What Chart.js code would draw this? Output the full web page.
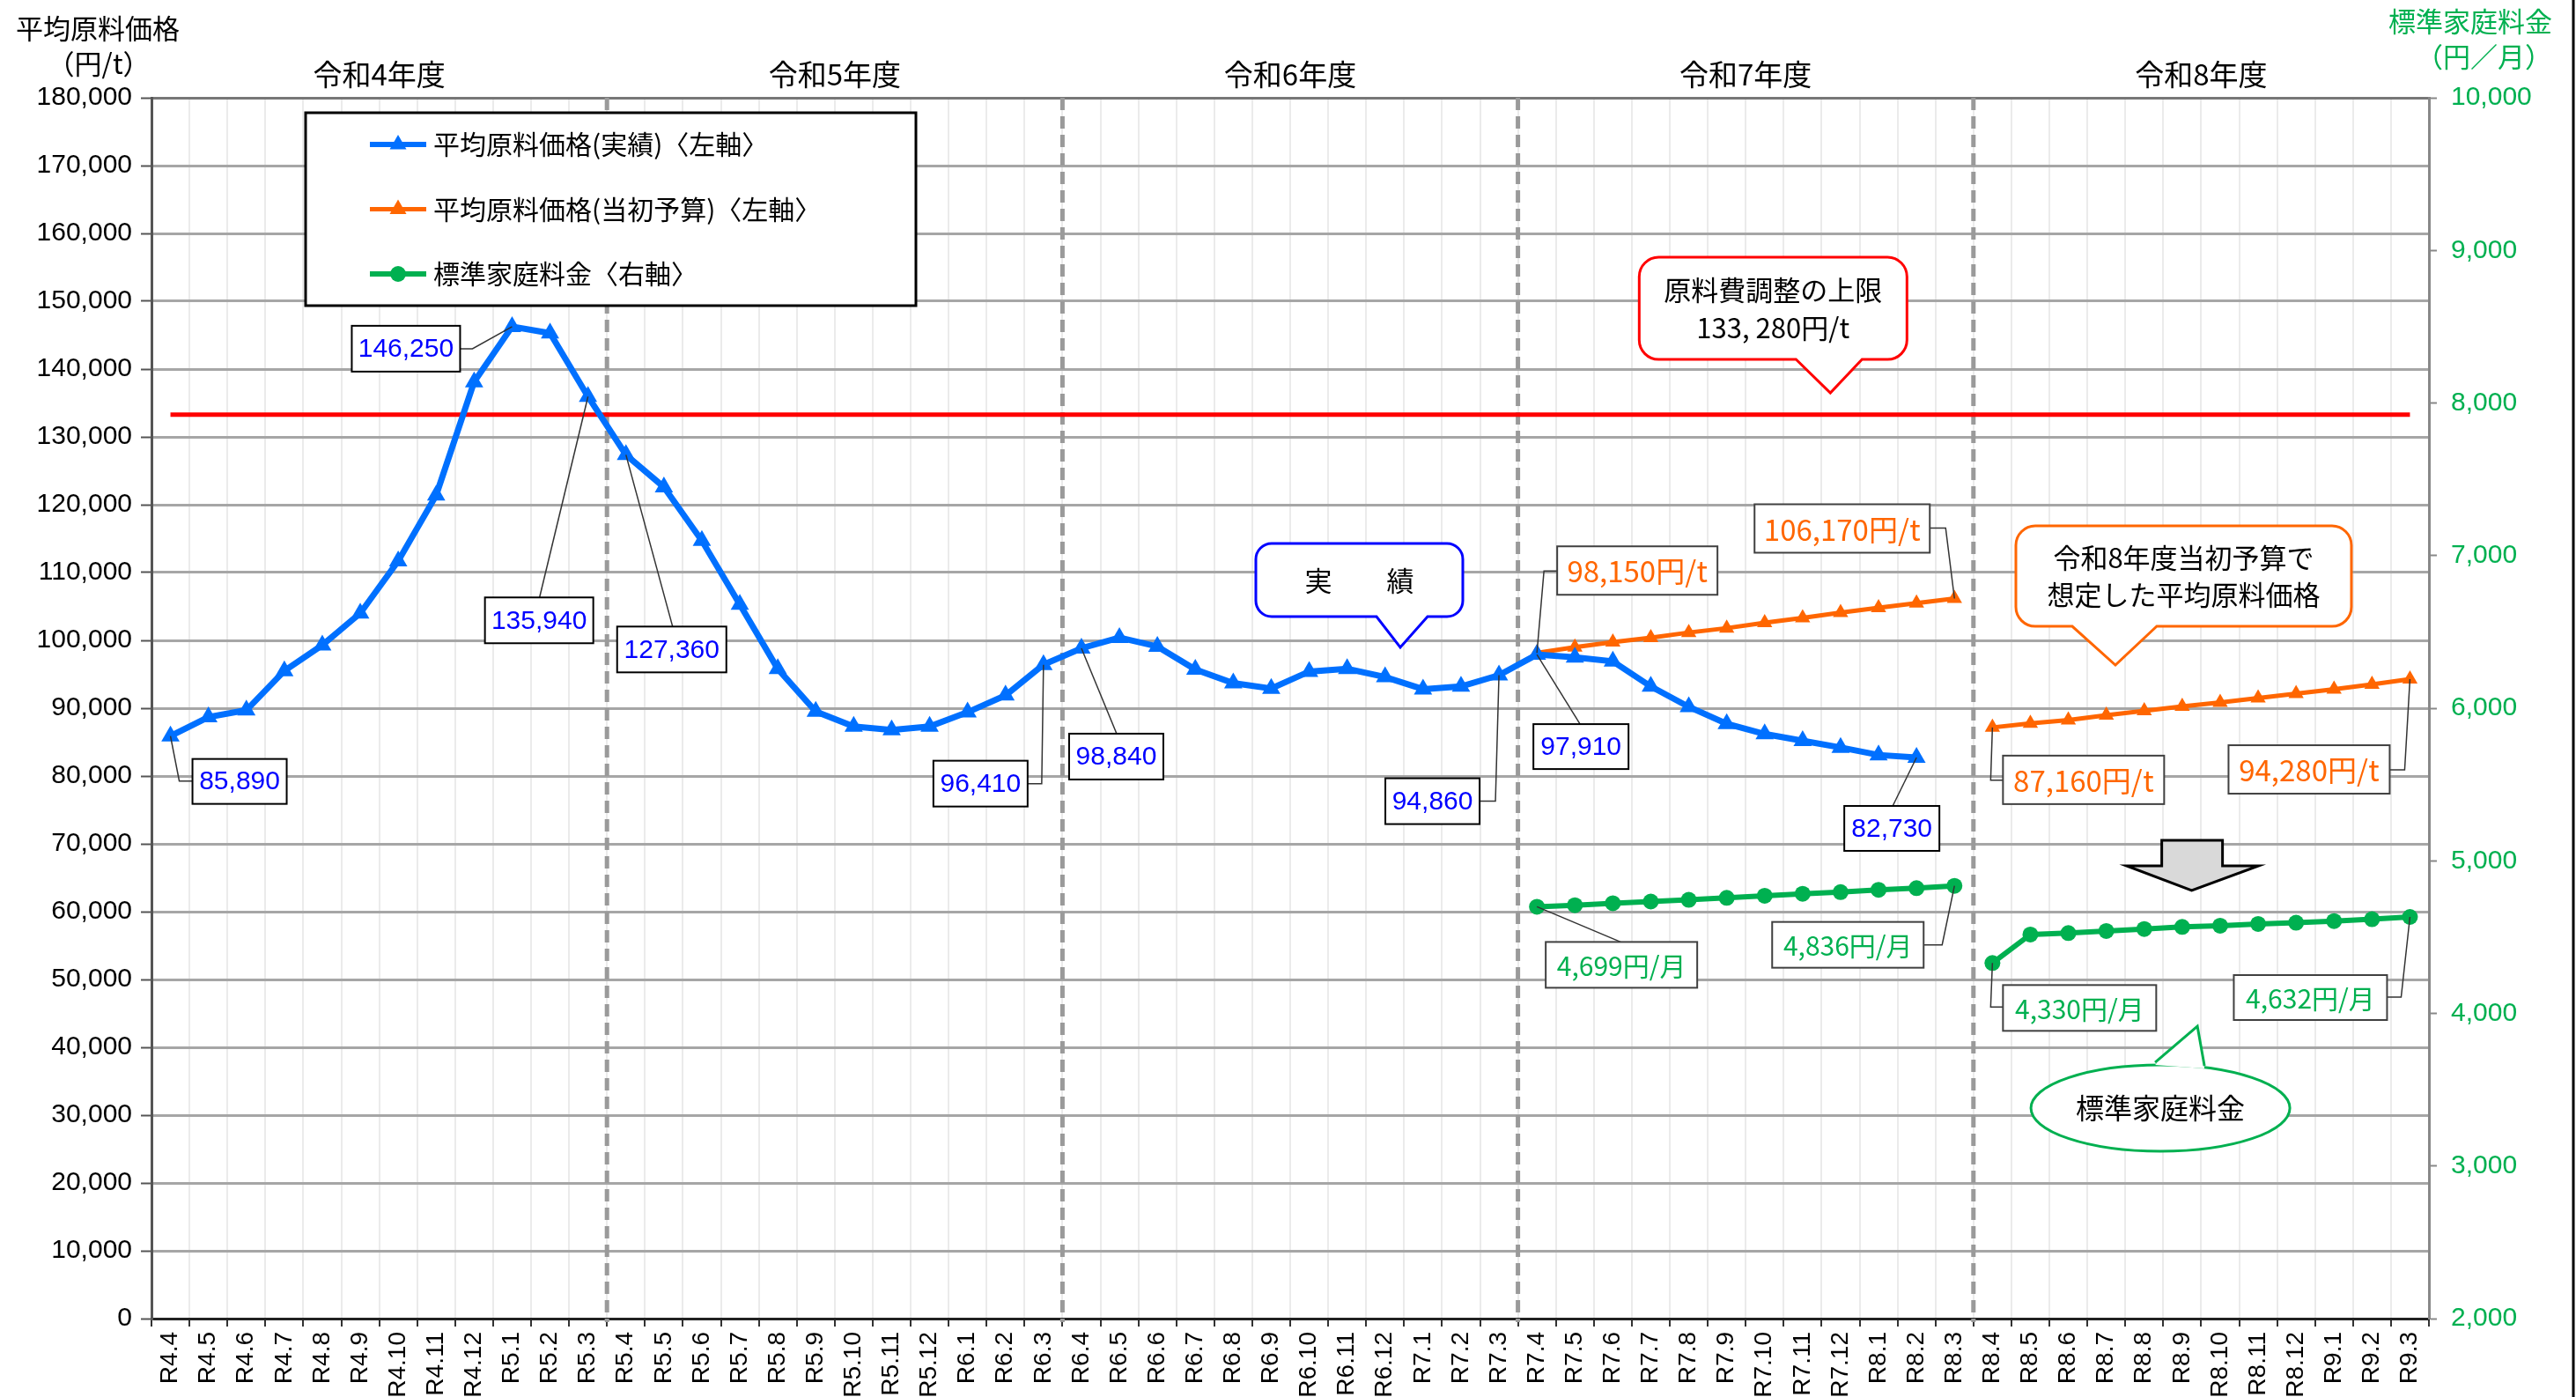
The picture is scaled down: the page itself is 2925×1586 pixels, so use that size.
<!DOCTYPE html>
<html lang="ja">
<head>
<meta charset="utf-8">
<title>平均原料価格と標準家庭料金の推移</title>
<script src="https://cdn.jsdelivr.net/npm/chart.js@4.4.1/dist/chart.umd.min.js"></script>
<style>
  html, body { margin: 0; padding: 0; background: #fff; }
  #chart { display: block; }
</style>
</head>
<body>
<canvas id="chart" width="2925" height="1586" style="width:2925px;height:1586px"></canvas>
<script>
"use strict";

/* data */
var months = [
  "R4.4","R4.5","R4.6","R4.7","R4.8","R4.9","R4.10","R4.11","R4.12","R5.1","R5.2","R5.3",
  "R5.4","R5.5","R5.6","R5.7","R5.8","R5.9","R5.10","R5.11","R5.12","R6.1","R6.2","R6.3",
  "R6.4","R6.5","R6.6","R6.7","R6.8","R6.9","R6.10","R6.11","R6.12","R7.1","R7.2","R7.3",
  "R7.4","R7.5","R7.6","R7.7","R7.8","R7.9","R7.10","R7.11","R7.12","R8.1","R8.2","R8.3",
  "R8.4","R8.5","R8.6","R8.7","R8.8","R8.9","R8.10","R8.11","R8.12","R9.1","R9.2","R9.3"
];
var fiscalYears = ["令和4年度", "令和5年度", "令和6年度", "令和7年度", "令和8年度"];

// 平均原料価格（実績） R4.4〜R8.2
var actualPrice = [
  85890, 88700, 89700, 95500, 99300, 104000, 111700, 121400, 138100, 146250, 145300, 135940,
  127360, 122600, 114700, 105300, 95800, 89500, 87300, 86800, 87300, 89400, 91900, 96410,
  98840, 100400, 99100, 95700, 93700, 92900, 95400, 95800, 94600, 92800, 93200, 94860,
  97910, 97500, 96900, 93200, 90200, 87700, 86200, 85200, 84200, 83100, 82730
];
// 平均原料価格（当初予算） R7.4〜R8.3 / R8.4〜R9.3
var budgetPriceR7 = [98150, 99000, 99750, 100400, 101150, 101800, 102600, 103300, 104100, 104800, 105500, 106170];
var budgetPriceR8 = [87160, 87750, 88250, 88950, 89600, 90250, 90850, 91500, 92150, 92800, 93500, 94280];
// 標準家庭料金 R7.4〜R8.3 / R8.4〜R9.3
var householdRateR7 = [4699, 4709, 4722, 4733, 4744, 4757, 4771, 4784, 4795, 4810, 4821, 4836];
var householdRateR8 = [4330, 4517, 4526, 4540, 4553, 4567, 4575, 4586, 4594, 4605, 4617, 4632];
// 原料費調整の上限
var adjustmentCap = 133280;

var BLUE = "#0070ff", ORANGE = "#ff6600", GREEN = "#00b050", RED = "#ff0000";
var JP = "'Noto Sans CJK JP', 'Noto Sans', sans-serif";
var NUM = "'Liberation Sans', Arial, sans-serif";

function pad(start, values) {
  var out = [];
  for (var k = 0; k < months.length; k++) {
    var j = k - start;
    out.push(j >= 0 && j < values.length ? values[j] : null);
  }
  return out;
}
function fmt(v) { return v.toLocaleString("en-US"); }

/* value labels with leader lines (offsets from the point) */
var valueLabels = [
  {ds: 0, i: 0,  box: [25, 26, 107, 51],    path: [[0,0],[10,51],[25,51]]},
  {ds: 0, i: 9,  box: [-182, -1, 123, 52],  path: [[0,0],[-45,25],[-59,25]]},
  {ds: 0, i: 11, box: [-117, 228, 123, 52], path: [[0,0],[-55,228]]},
  {ds: 0, i: 12, box: [-10, 195, 124, 52],  path: [[0,0],[53,195]]},
  {ds: 0, i: 23, box: [-125, 109, 107, 52], path: [[0,0],[-2,135],[-18,135]]},
  {ds: 0, i: 24, box: [-14, 97, 107, 52],   path: [[0,0],[40,97]]},
  {ds: 0, i: 35, box: [-129, 117, 107, 52], path: [[0,0],[-4,143],[-22,143]]},
  {ds: 0, i: 36, box: [-4, 79, 108, 51],    path: [[0,0],[49,79]]},
  {ds: 0, i: 46, box: [-82, 55, 108, 51],   path: [[0,0],[-27,55]]},
  {ds: 1, i: 36, box: [23, -121, 182, 55],  path: [[0,0],[8,-93],[23,-93]]},
  {ds: 1, i: 47, box: [-227, -107, 199, 55],path: [[0,0],[-10,-80],[-28,-80]]},
  {ds: 2, i: 48, box: [12, 32, 183, 55],    path: [[0,0],[-2,60],[12,60]]},
  {ds: 2, i: 59, box: [-206, 75, 183, 55],  path: [[0,0],[-6,103],[-23,103]]},
  {ds: 3, i: 36, box: [10, 40, 172, 52],    path: [[0,0],[95,40]]},
  {ds: 3, i: 47, box: [-207, 41, 172, 52],  path: [[0,0],[-14,67],[-35,67]]},
  {ds: 4, i: 48, box: [12, 25, 174, 52],    path: [[0,0],[-2,50],[12,50]]},
  {ds: 4, i: 59, box: [-200, 66, 174, 51],  path: [[0,0],[-10,91],[-26,91]]}
];
var labelStyle = [
  {color: "#0000ff", font: "30px " + NUM, suffix: "", border: "#000"},
  {color: ORANGE, font: "33px " + JP, suffix: "円/t", border: "#404040"},
  {color: ORANGE, font: "33px " + JP, suffix: "円/t", border: "#404040"},
  {color: GREEN, font: "30px " + JP, suffix: "円/月", border: "#404040"},
  {color: GREEN, font: "30px " + JP, suffix: "円/月", border: "#404040"}
];

function tri(ctx, x, y, r) {
  ctx.beginPath();
  ctx.moveTo(x, y - r);
  ctx.lineTo(x + r * 0.866, y + r * 0.5);
  ctx.lineTo(x - r * 0.866, y + r * 0.5);
  ctx.closePath();
  ctx.fill();
}

// rounded box with a pointer at the bottom
function bubble(ctx, x1, y1, x2, y2, r, bl, br, tx, ty) {
  ctx.beginPath();
  ctx.moveTo(x1 + r, y1);
  ctx.lineTo(x2 - r, y1);
  ctx.arcTo(x2, y1, x2, y1 + r, r);
  ctx.lineTo(x2, y2 - r);
  ctx.arcTo(x2, y2, x2 - r, y2, r);
  ctx.lineTo(br, y2);
  ctx.lineTo(tx, ty);
  ctx.lineTo(bl, y2);
  ctx.lineTo(x1 + r, y2);
  ctx.arcTo(x1, y2, x1, y2 - r, r);
  ctx.lineTo(x1, y1 + r);
  ctx.arcTo(x1, y1, x1 + r, y1, r);
  ctx.closePath();
  ctx.fillStyle = "#fff";
  ctx.fill();
  ctx.stroke();
}

var decorPlugin = {
  id: "decor",
  beforeDatasetsDraw: function(chart) {
    var ctx = chart.ctx, xs = chart.scales.x, a = chart.chartArea;
    ctx.save();
    ctx.strokeStyle = "#9a9a9a";
    ctx.lineWidth = 5;
    ctx.setLineDash([14, 7]);
    for (var k = 1; k < fiscalYears.length; k++) {
      var x = xs.getPixelForValue(12 * k - 0.5);
      ctx.beginPath();
      ctx.moveTo(x, a.top);
      ctx.lineTo(x, a.bottom + 4);
      ctx.stroke();
    }
    ctx.restore();
  },
  afterDatasetsDraw: function(chart) {
    var ctx = chart.ctx, xs = chart.scales.x, ys = chart.scales.y, y2 = chart.scales.y2, a = chart.chartArea;
    ctx.save();

    // legend
    var lx = a.left + 175, ly = a.top + 17;
    ctx.fillStyle = "#fff";
    ctx.fillRect(lx, ly, 693, 219);
    ctx.strokeStyle = "#000";
    ctx.lineWidth = 3;
    ctx.strokeRect(lx, ly, 693, 219);
    var entries = [
      {text: "平均原料価格(実績)〈左軸〉", color: BLUE, mark: "tri", w: 6},
      {text: "平均原料価格(当初予算)〈左軸〉", color: ORANGE, mark: "tri", w: 5},
      {text: "標準家庭料金〈右軸〉", color: GREEN, mark: "dot", w: 6}
    ];
    entries.forEach(function(e, k) {
      var cy = ly + 36 + k * 73.5;
      ctx.strokeStyle = e.color;
      ctx.fillStyle = e.color;
      ctx.lineWidth = e.w;
      ctx.beginPath();
      ctx.moveTo(lx + 73, cy);
      ctx.lineTo(lx + 137, cy);
      ctx.stroke();
      if (e.mark === "tri") tri(ctx, lx + 105, cy, 11);
      else { ctx.beginPath(); ctx.arc(lx + 105, cy, 9, 0, Math.PI * 2); ctx.fill(); }
      ctx.fillStyle = "#000";
      ctx.font = "30px " + JP;
      ctx.textAlign = "left";
      ctx.textBaseline = "middle";
      ctx.fillText(e.text, lx + 145, cy);
    });

    // value labels
    valueLabels.forEach(function(l) {
      var el = chart.getDatasetMeta(l.ds).data[l.i];
      var st = labelStyle[l.ds];
      var px = el.x, py = el.y;
      ctx.strokeStyle = "#333";
      ctx.lineWidth = 1.5;
      ctx.beginPath();
      l.path.forEach(function(p, k) {
        if (k === 0) ctx.moveTo(px + p[0], py + p[1]);
        else ctx.lineTo(px + p[0], py + p[1]);
      });
      ctx.stroke();
      var bx = px + l.box[0], by = py + l.box[1];
      ctx.fillStyle = "#fff";
      ctx.fillRect(bx, by, l.box[2], l.box[3]);
      ctx.strokeStyle = st.border;
      ctx.lineWidth = 2;
      ctx.strokeRect(bx, by, l.box[2], l.box[3]);
      ctx.fillStyle = st.color;
      ctx.font = st.font;
      ctx.textAlign = "center";
      ctx.textBaseline = "middle";
      var v = chart.data.datasets[l.ds].data[l.i];
      ctx.fillText(fmt(v) + st.suffix, bx + l.box[2] / 2, by + l.box[3] / 2 + 1);
    });

    // callouts
    var bubbles = [
      {i: 32.4, v: 98960, box: [-164, -118, 235, 83], base: [-27, 31], color: "#0000ff", r: 18,
       lines: [["実　　績", -76]]},
      {i: 43.73, v: 136490, box: [-217, -154, 304, 116], base: [-39, 36], color: RED, r: 22,
       lines: [["原料費調整の上限", -117], ["133, 280円/t", -74]]},
      {i: 51.24, v: 96360, box: [-113, -158, 381, 114], base: [-49, 47], color: ORANGE, r: 22,
       lines: [["令和8年度当初予算で", -122], ["想定した平均原料価格", -80]]}
    ];
    bubbles.forEach(function(b) {
      var tx = xs.getPixelForValue(b.i), ty = ys.getPixelForValue(b.v);
      ctx.strokeStyle = b.color;
      ctx.lineWidth = 3;
      bubble(ctx, tx + b.box[0], ty + b.box[1], tx + b.box[0] + b.box[2], ty + b.box[1] + b.box[3],
             b.r, tx + b.base[0], tx + b.base[1], tx, ty);
      ctx.fillStyle = "#000";
      ctx.font = "31px " + JP;
      ctx.textAlign = "center";
      ctx.textBaseline = "middle";
      b.lines.forEach(function(ln) {
        ctx.fillText(ln[0], tx + b.box[0] + b.box[2] / 2, ty + ln[1]);
      });
    });

    // ellipse callout
    var ex = xs.getPixelForValue(53.4), ey = y2.getPixelForValue(3916);
    ctx.strokeStyle = GREEN;
    ctx.lineWidth = 3;
    ctx.fillStyle = "#fff";
    ctx.beginPath();
    ctx.ellipse(ex - 42, ey + 93, 147, 49, 0, 0, Math.PI * 2);
    ctx.fill();
    ctx.stroke();
    ctx.beginPath();
    ctx.moveTo(ex - 48, ey + 44);
    ctx.lineTo(ex, ey);
    ctx.lineTo(ex + 8, ey + 48);
    ctx.closePath();
    ctx.fill();
    ctx.beginPath();
    ctx.moveTo(ex - 48, ey + 41);
    ctx.lineTo(ex, ey);
    ctx.lineTo(ex + 8, ey + 45);
    ctx.stroke();
    ctx.fillStyle = "#000";
    ctx.font = "32px " + JP;
    ctx.textAlign = "center";
    ctx.textBaseline = "middle";
    ctx.fillText("標準家庭料金", ex - 42, ey + 93);

    // down arrow
    var ax = xs.getPixelForValue(53.25), ay = ys.getPixelForValue(63120);
    ctx.beginPath();
    ctx.moveTo(ax - 34, ay - 57);
    ctx.lineTo(ax + 35, ay - 57);
    ctx.lineTo(ax + 35, ay - 28);
    ctx.lineTo(ax + 76, ay - 28);
    ctx.lineTo(ax, ay);
    ctx.lineTo(ax - 74, ay - 28);
    ctx.lineTo(ax - 34, ay - 28);
    ctx.closePath();
    ctx.fillStyle = "#d9d9d9";
    ctx.fill();
    ctx.strokeStyle = "#000";
    ctx.lineWidth = 3;
    ctx.stroke();

    ctx.restore();
  },
  afterDraw: function(chart) {
    var ctx = chart.ctx, xs = chart.scales.x, a = chart.chartArea;
    ctx.save();
    ctx.textBaseline = "middle";
    ctx.font = "33px " + JP;
    ctx.fillStyle = "#000";
    ctx.textAlign = "center";
    fiscalYears.forEach(function(fy, k) {
      ctx.fillText(fy, xs.getPixelForValue(12 * k + 5.5), a.top - 27);
    });
    ctx.font = "31px " + JP;
    ctx.textAlign = "left";
    ctx.fillText("平均原料価格", 18, 32);
    ctx.textAlign = "center";
    ctx.fillText("（円/t）", 112, 72);
    ctx.fillStyle = GREEN;
    ctx.textAlign = "right";
    ctx.fillText("標準家庭料金", 2898, 24);
    ctx.fillText("（円／月）", 2898, 64);
    // frame edge on the right
    ctx.strokeStyle = "#000";
    ctx.lineWidth = 3;
    ctx.beginPath();
    ctx.moveTo(2922, 0);
    ctx.lineTo(2922, chart.height);
    ctx.stroke();
    ctx.restore();
  }
};

var ctx = document.getElementById("chart");
new Chart(ctx, {
  type: "line",
  data: {
    labels: months,
    datasets: [
      {
        label: "平均原料価格（実績）〈左軸〉",
        data: pad(0, actualPrice),
        yAxisID: "y",
        borderColor: BLUE, backgroundColor: BLUE,
        borderWidth: 7, pointStyle: "triangle", pointRadius: 12, pointBorderWidth: 0,
        order: 1
      },
      {
        label: "平均原料価格（当初予算）〈左軸〉",
        data: pad(36, budgetPriceR7),
        yAxisID: "y",
        borderColor: ORANGE, backgroundColor: ORANGE,
        borderWidth: 5, pointStyle: "triangle", pointRadius: 10, pointBorderWidth: 0,
        order: 2
      },
      {
        label: "平均原料価格（当初予算）R8",
        data: pad(48, budgetPriceR8),
        yAxisID: "y",
        borderColor: ORANGE, backgroundColor: ORANGE,
        borderWidth: 5, pointStyle: "triangle", pointRadius: 10, pointBorderWidth: 0,
        order: 2
      },
      {
        label: "標準家庭料金〈右軸〉",
        data: pad(36, householdRateR7),
        yAxisID: "y2",
        borderColor: GREEN, backgroundColor: GREEN,
        borderWidth: 6, pointStyle: "circle", pointRadius: 9, pointBorderWidth: 0,
        order: 3
      },
      {
        label: "標準家庭料金 R8",
        data: pad(48, householdRateR8),
        yAxisID: "y2",
        borderColor: GREEN, backgroundColor: GREEN,
        borderWidth: 6, pointStyle: "circle", pointRadius: 9, pointBorderWidth: 0,
        order: 3
      },
      {
        label: "原料費調整の上限",
        data: months.map(function() { return adjustmentCap; }),
        yAxisID: "y",
        borderColor: RED, borderWidth: 5, pointRadius: 0,
        order: 10
      }
    ]
  },
  options: {
    responsive: false,
    animation: false,
    layout: { padding: { top: 111, left: 0, right: 0, bottom: 0 } },
    elements: { line: { tension: 0 } },
    plugins: { legend: { display: false }, tooltip: { enabled: false } },
    scales: {
      x: {
        type: "category",
        offset: true,
        grid: { offset: true, color: "#ebebeb", lineWidth: 2, tickColor: "#333", tickLength: 9, tickWidth: 2 },
        border: { color: "#222", width: 3 },
        ticks: {
          autoSkip: false, maxRotation: 90, minRotation: 90, padding: 6,
          color: "#000", font: { family: NUM, size: 28 }
        },
        afterFit: function(s) { s.height = 89; }
      },
      y: {
        position: "left",
        min: 0, max: 180000,
        ticks: {
          stepSize: 10000, padding: 10, color: "#000",
          font: { family: NUM, size: 30 },
          callback: function(v) { return fmt(v); }
        },
        grid: {
          color: function(c) { return c.tick && c.tick.value === 180000 ? "#777" : "#a6a6a6"; },
          lineWidth: 3, tickColor: "#555", tickLength: 12, tickWidth: 2
        },
        border: { color: "#555", width: 3 },
        afterFit: function(s) { s.width = 172; }
      },
      y2: {
        position: "right",
        min: 2000, max: 10000,
        ticks: {
          stepSize: 1000, padding: 16, color: GREEN,
          font: { family: NUM, size: 30 },
          callback: function(v) { return fmt(v); }
        },
        grid: { drawOnChartArea: false, tickColor: "#888", tickLength: 9, tickWidth: 2 },
        border: { color: "#888", width: 3 },
        afterFit: function(s) { s.width = 167; }
      }
    }
  },
  plugins: [decorPlugin]
});
</script>
</body>
</html>
